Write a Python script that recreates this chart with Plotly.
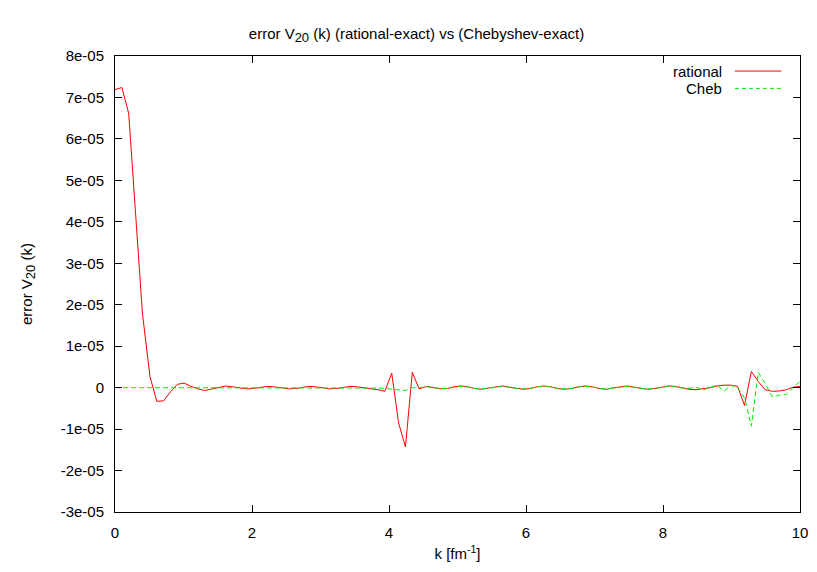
import plotly.graph_objects as go

# k grid [fm^-1]
k = [0.00, 0.10, 0.20, 0.30, 0.40, 0.51, 0.61, 0.71, 0.81, 0.91,
     1.01, 1.11, 1.21, 1.31, 1.41, 1.52, 1.62, 1.72, 1.82, 1.92,
     2.02, 2.12, 2.22, 2.32, 2.42, 2.53, 2.63, 2.73, 2.83, 2.93,
     3.03, 3.13, 3.23, 3.33, 3.43, 3.54, 3.64, 3.74, 3.84, 3.94,
     4.04, 4.14, 4.24, 4.34, 4.44, 4.55, 4.65, 4.75, 4.85, 4.95,
     5.05, 5.15, 5.25, 5.35, 5.45, 5.56, 5.66, 5.76, 5.86, 5.96,
     6.06, 6.16, 6.26, 6.36, 6.46, 6.57, 6.67, 6.77, 6.87, 6.97,
     7.07, 7.17, 7.27, 7.37, 7.47, 7.58, 7.68, 7.78, 7.88, 7.98,
     8.08, 8.18, 8.28, 8.38, 8.48, 8.59, 8.69, 8.79, 8.89, 8.99,
     9.09, 9.19, 9.29, 9.39, 9.49, 9.60, 9.70, 9.80, 9.90, 10.00]

# errors in units of 1e-05
rational = [7.19, 7.24, 6.62, 4.20, 1.80, 0.27, -0.33, -0.32, -0.10, 0.08,
            0.11, 0.03, -0.03, -0.07, -0.04, 0.01, 0.04, 0.02, -0.01, -0.03,
            -0.02, 0.01, 0.03, 0.02, -0.01, -0.03, -0.02, 0.01, 0.03, 0.02,
            -0.01, -0.03, -0.02, 0.01, 0.03, 0.02, -0.01, -0.03, -0.05, -0.09,
            0.35, -0.85, -1.43, 0.37, -0.03, 0.03, 0.00, -0.03, -0.02, 0.02,
            0.04, 0.02, -0.02, -0.04, -0.01, 0.02, 0.04, 0.01, -0.02, -0.04,
            -0.02, 0.02, 0.04, 0.02, -0.02, -0.04, -0.02, 0.02, 0.04, 0.02,
            -0.02, -0.04, -0.01, 0.02, 0.04, 0.01, -0.02, -0.04, -0.02, 0.01,
            0.04, 0.03, -0.01, -0.04, -0.05, -0.03, 0.00, 0.04, 0.06, 0.06,
            0.03, -0.43, 0.39, 0.15, -0.05, -0.09, -0.08, -0.05, 0.01, 0.03]

cheb = [0.00, 0.00, 0.00, 0.00, 0.00, 0.00, 0.00, 0.00, 0.00, 0.00,
        0.00, 0.00, 0.00, 0.00, 0.00, 0.00, 0.00, 0.00, 0.00, 0.00,
        0.00, 0.00, 0.00, 0.00, 0.00, 0.00, 0.00, 0.00, 0.00, 0.00,
        0.00, 0.00, 0.00, 0.00, 0.00, 0.00, 0.00, 0.00, -0.01, -0.02,
        -0.04, -0.06, -0.07, 0.00, 0.00, 0.02, 0.00, -0.02, -0.02, 0.01,
        0.03, 0.02, -0.02, -0.03, -0.01, 0.02, 0.03, 0.01, -0.02, -0.03,
        -0.02, 0.02, 0.03, 0.02, -0.02, -0.03, -0.02, 0.02, 0.03, 0.02,
        -0.02, -0.03, -0.01, 0.02, 0.03, 0.01, -0.02, -0.03, -0.02, 0.01,
        0.03, 0.02, -0.01, -0.02, 0.01, -0.05, 0.00, 0.06, -0.09, 0.06,
        0.00, -0.25, -0.93, 0.37, 0.10, -0.23, -0.18, -0.16, 0.00, 0.15]

x_ticks = [0, 2, 4, 6, 8, 10]
y_ticks = [8, 7, 6, 5, 4, 3, 2, 1, 0, -1, -2, -3]
y_tick_labels = ["8e-05", "7e-05", "6e-05", "5e-05", "4e-05", "3e-05",
                 "2e-05", "1e-05", "0", "-1e-05", "-2e-05", "-3e-05"]

RED = "#ff0000"
GREEN = "#00ee00"
FONT = "Liberation Sans, Arial, sans-serif"
SUB20 = "<sub><span style='font-size:13px'>20</span></sub>"

fig = go.Figure()
fig.add_trace(go.Scatter(x=k, y=[v * 1e-5 for v in rational], mode="lines",
                         name="rational", line=dict(color=RED, width=1)))
fig.add_trace(go.Scatter(x=k, y=[v * 1e-5 for v in cheb], mode="lines",
                         name="Cheb", line=dict(color=GREEN, width=1, dash="5px,3px")))

axis_style = dict(showline=True, linecolor="black", linewidth=1, mirror="ticks",
                  ticks="inside", ticklen=7, tickcolor="black", showgrid=False,
                  zeroline=False, ticklabelstandoff=7,
                  tickfont=dict(size=15, color="black"))

fig.update_xaxes(range=[0, 10], tickvals=x_ticks, **axis_style,
                 title=dict(text="k [fm<sup>-1</sup>]", font=dict(size=15), standoff=8))
fig.update_yaxes(range=[-3e-5, 8e-5], tickvals=[v * 1e-5 for v in y_ticks],
                 ticktext=y_tick_labels, **axis_style,
                 title=dict(text="error V" + SUB20 + " (k)", font=dict(size=15), standoff=24))

# gnuplot-style key: text right-aligned, sample line to its right
legend_rows = [("rational", RED, "solid", 0.967), ("Cheb", GREEN, "4px,3px", 0.929)]
annotations = []
shapes = []
for label, color, dash, yy in legend_rows:
    annotations.append(dict(text=label, xref="paper", yref="paper", x=0.889, y=yy,
                            xanchor="right", yanchor="middle", showarrow=False,
                            font=dict(size=15, color="black")))
    shapes.append(dict(type="line", xref="paper", yref="paper", x0=0.905, x1=0.973,
                       y0=yy, y1=yy, line=dict(color=color, width=1, dash=dash)))

fig.update_layout(
    width=817, height=572,
    plot_bgcolor="white", paper_bgcolor="white",
    font=dict(family=FONT, size=15, color="black"),
    title=dict(text="error V" + SUB20 + " (k) (rational-exact) vs (Chebyshev-exact)",
               x=0.5, xanchor="center", y=0.965, font=dict(size=15)),
    showlegend=False,
    annotations=annotations, shapes=shapes,
    margin=dict(l=107, r=25, t=48, b=68),
)

fig.write_html("out.html")
